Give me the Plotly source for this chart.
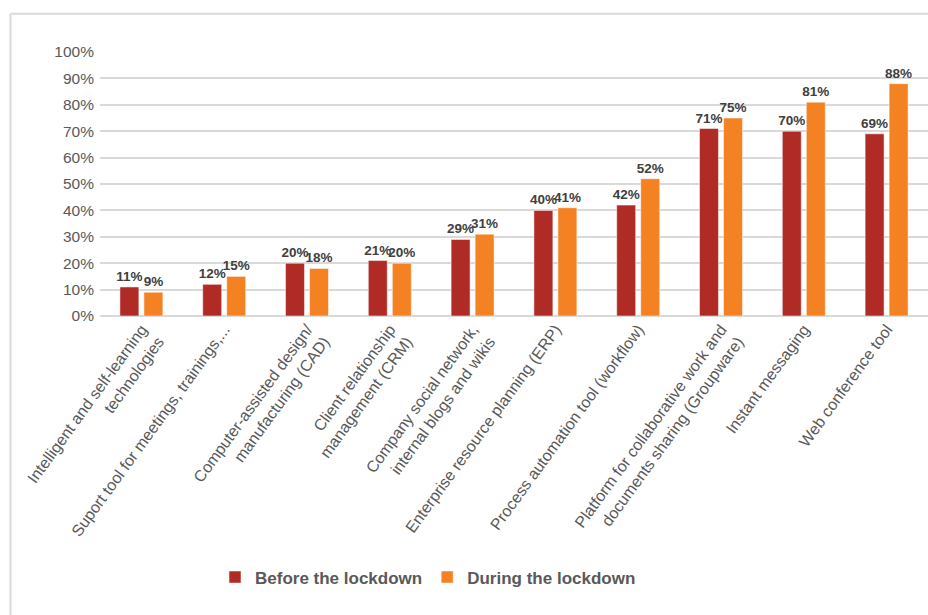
import plotly.graph_objects as go

categories = [
    "Intelligent and self-learning<br>technologies",
    "Suport tool for meetings, trainings,...",
    "Computer-assisted design/<br>manufacturing (CAD)",
    "Client relationship<br>management (CRM)",
    "Company social network,<br>internal blogs and wikis",
    "Enterprise resource planning (ERP)",
    "Process automation tool (workflow)",
    "Platform for collaborative work and<br>documents sharing (Groupware)",
    "Instant messaging",
    "Web conference tool",
]
before = [0.11, 0.12, 0.20, 0.21, 0.29, 0.40, 0.42, 0.71, 0.70, 0.69]
during = [0.09, 0.15, 0.18, 0.20, 0.31, 0.41, 0.52, 0.75, 0.81, 0.88]
series_names = ["Before the lockdown", "During the lockdown"]
tick_vals = [0, 0.1, 0.2, 0.3, 0.4, 0.5, 0.6, 0.7, 0.8, 0.9, 1.0]
tick_text = ["0%", "10%", "20%", "30%", "40%", "50%", "60%", "70%", "80%", "90%", "100%"]

RED = "#B02A26"
ORANGE = "#F48222"
label_font = dict(family="Liberation Sans", size=13.5, color="#404040")

fig = go.Figure()
for name, vals, col in [(series_names[0], before, RED), (series_names[1], during, ORANGE)]:
    fig.add_trace(go.Bar(
        x=categories, y=vals, name=name,
        marker=dict(color=col, line=dict(color="rgba(255,255,255,0.5)", width=1)),
        text=[f"<b>{round(v*100)}%</b>" for v in vals],
        textposition="outside", cliponaxis=False, constraintext="none",
        textfont=label_font,
    ))

# Outer frame lines (left and top)
L, R, T, B = 100, 928, 51.5, 316.5
W, H = R - L, B - T
def px_x(x):
    return (x - L) / W
def px_y(y):
    return (B - y) / H

fig.update_layout(
    width=928, height=615,
    margin=dict(l=L, r=928 - R, t=T, b=615 - B),
    paper_bgcolor="white", plot_bgcolor="white",
    barmode="group", bargap=0.42, bargroupgap=0.21,
    font=dict(family="Liberation Sans", color="#595959"),
    showlegend=True,
    legend=dict(orientation="h", x=px_x(428), xanchor="center", y=px_y(579), yanchor="middle",
                font=dict(family="Liberation Sans", size=17, color="#595959", weight="bold"),
                itemwidth=30, traceorder="normal"),
    xaxis=dict(tickangle=-54, tickfont=dict(family="Liberation Sans", size=16, color="#595959"),
               showgrid=False, showline=False, ticks=""),
    yaxis=dict(range=[0, 1], tickvals=tick_vals, ticktext=tick_text,
               tickfont=dict(family="Liberation Sans", size=15.5, color="#595959"),
               ticklabelstandoff=5,
               showgrid=True, gridcolor="#D9D9D9", gridwidth=1.5,
               zeroline=True, zerolinecolor="#D9D9D9", zerolinewidth=1.5,
               ticks="", showline=False),
    shapes=[
        dict(type="line", xref="paper", yref="paper", x0=px_x(10.5), x1=px_x(935),
             y0=px_y(13), y1=px_y(13), line=dict(color="#D9D9D9", width=2)),
        dict(type="line", xref="paper", yref="paper", x0=px_x(10.5), x1=px_x(10.5),
             y0=px_y(13), y1=px_y(620), line=dict(color="#D9D9D9", width=2)),
    ],
)

fig.write_html("out.html")
